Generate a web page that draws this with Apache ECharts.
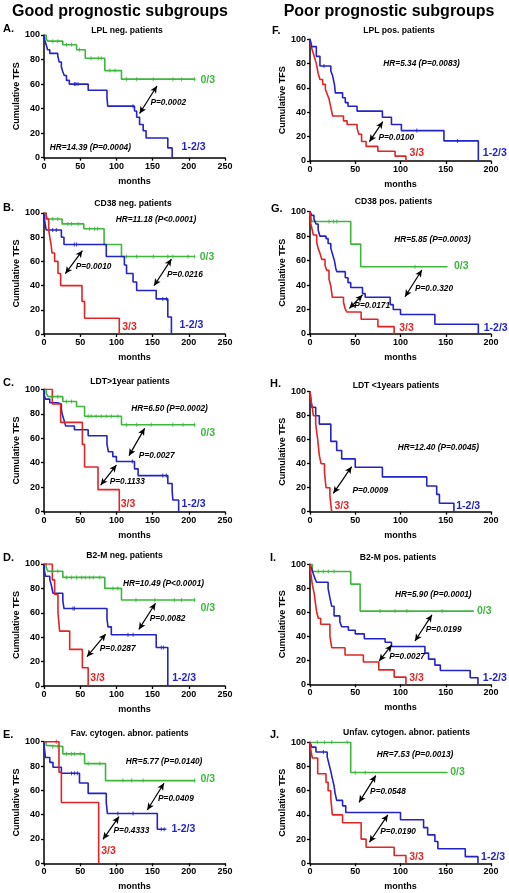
<!DOCTYPE html>
<html><head><meta charset="utf-8">
<script src="https://cdn.jsdelivr.net/npm/echarts@6.0.0/dist/echarts.min.js"></script>
<style>html,body{margin:0;padding:0;background:#fff}#c{width:509px;height:893px}</style>
</head><body><div id="c"></div><script>
// ---------- tick labels ----------
const yTicks = [0, 20, 40, 60, 80, 100];
const xTicksGood = [0, 50, 100, 150, 200, 250];
const xTicksPoor = [0, 50, 100, 150, 200];

// ---------- A. LPL neg. ----------
const A_green = [[0,100],[3,97],[5,95],[26,92],[45,88],[57,81],[84,71],[107,64],[209,64]];
const A_greenCens = [[12,95],[19,95],[31,92],[38,92],[49,88],[65,81],[75,81],[79,81],[91,71],[98,71],[114,64],[128,64],[151,64],[178,64],[190,64],[208,64]];
const A_blue = [[0,100],[1,96],[3,92],[5,88],[8,85],[19,83],[21,78],[24,74],[26,70],[28,67],[31,63],[35,60],[61,55],[87,49],[88,42],[125,38],[128,33],[132,27],[137,22],[141,16],[171,8],[177,0]];
const A_blueCens = [[42,60],[44,60],[47,60],[123,42]];

// ---------- F. LPL pos. ----------
const F_red = [[0,100],[1,95],[3,90],[5,85],[7,80],[8,76],[9,72],[11,67],[14,63],[17,59],[19,55],[21,51],[23,44],[25,37],[37,33],[41,30],[52,27],[54,22],[57,16],[62,12],[75,8],[94,4],[106,0]];
const F_blue = [[0,100],[2,94],[7,86],[11,78],[23,74],[25,70],[27,63],[28,56],[36,52],[39,48],[42,45],[52,41],[80,36],[90,30],[101,25],[148,16.5],[186,0]];
const F_blueCens = [[15.5,78],[118,25],[163,16.5]];

// ---------- B. CD38 neg. ----------
const B_green = [[0,100],[3,98],[5,95],[25,91],[55,87],[83,74],[107,64],[208,64]];
const B_greenCens = [[12,95],[19,95],[33,91],[38,91],[47,91],[63,87],[70,87],[74,87],[114,64],[128,64],[151,64],[171,64],[178,64],[199,64],[208,64]];
const B_blue = [[0,100],[1,93],[3,86],[24,80],[27.6,74],[86,64],[111,57],[114,50],[123,43],[128,36],[155,29],[171,14],[176,0]];
const B_blueCens = [[12,86],[17,86],[42,74],[45,74],[164,29],[169,29]];
const B_red = [[0,100],[3,95],[6.5,86],[8,80],[10,73],[11,67],[14.7,60],[19.3,50],[23,40],[52.5,27],[56,13],[104,0]];

// ---------- G. CD38 pos. ----------
const G_green = [[0,100],[2,92],[45,73.5],[56,55],[152,55]];
const G_greenCens = [[21,92],[26,92],[29.5,92],[116,55]];
const G_blue = [[0,100],[2,97],[4.4,94],[6.6,90],[9,85],[11,80],[17.7,78],[20,74],[23,70],[25,65],[27,60],[28.4,54],[29.5,51],[39,46],[42,42],[45,38],[58,33],[61,30],[88.6,24],[92,20],[100,16],[138,8],[186,0]];
const G_red = [[0,100],[0.5,95],[1,90],[2.5,85],[3.7,81],[7.4,75],[9,70],[11,66],[13,61],[16.6,56],[18.5,52],[21,45],[23,39],[24.7,30],[37,26],[38.7,21],[40.6,18],[56.5,12],[75,6],[93,0]];

// ---------- C. LDT>1year ----------
const C_green = [[0,100],[3,97],[5.5,94],[26,90],[45,86],[56,78],[107,71],[209,71]];
const C_greenCens = [[12,94],[19,94],[31,90],[38,90],[61,78],[65,78],[72,78],[79,78],[86,78],[93,78],[102,78],[114,71],[128,71],[148,71],[178,71],[192,71],[208,71]];
const C_red = [[0,100],[11.5,88],[23,73],[53,55],[56,36.5],[74.6,18],[104,0]];
const C_blue = [[0,100],[0.5,95],[2,92],[8,89],[19,88],[24,84],[25,80],[27.6,75],[30,70],[42,67],[61,62],[87,55],[89,49],[95,45],[100,41],[125,35],[130,29.5],[171,23],[177,17],[178,9.5],[186,0]];
const C_blueCens = [[122,41],[164,29.5],[169,29.5]];

// ---------- H. LDT <1years ----------
const H_red = [[0,100],[1,93],[2.6,87],[3.7,80],[6.3,73],[8.5,60],[10.3,47],[12.2,40],[16,33],[17.7,20],[22,13],[24,0]];
const H_blue = [[0,100],[2,87],[6.3,80],[10.3,73],[23,58.6],[29.5,51],[35,44],[50,37],[80,29],[129,21.4],[140,14.4],[143,7],[159,0]];

// ---------- D. B2-M neg. ----------
const D_green = [[0,100],[3,97],[5.5,94],[26,89],[84,80],[107,70.5],[209,70.5]];
const D_greenCens = [[12,94],[19,94],[31,89],[38,89],[45,89],[52,89],[57,89],[63,89],[68,89],[77,89],[95,80],[102,80],[127,70.5],[153,70.5],[180,70.5],[190,70.5],[208,70.5]];
const D_red = [[0,100],[11.5,87],[14.7,75],[19.3,60],[21.6,45],[35.5,30],[53,15],[61,0]];
const D_blue = [[0,100],[0.5,95],[2,90],[8,87],[10,83],[12.4,76],[26,70],[27.6,63.5],[87,55],[88.4,48.5],[93,42],[155,31.5],[171,0]];
const D_blueCens = [[40,63.5],[42,63.5],[116,42],[123,42],[162,31.5],[165,31.5]];

// ---------- I. B2-M pos. ----------
const I_green = [[0,100],[2.6,94],[45,83.5],[55.4,61],[181,61]];
const I_greenCens = [[9.2,94],[14.8,94],[20.3,94],[26.6,94],[77.5,61],[94,61],[107,61],[146,61]];
const I_red = [[0,100],[1,92],[2.6,83],[4.8,75],[6.3,66],[7.4,60],[9.2,55],[11.8,50],[22,40],[24,30.5],[38.7,24.4],[59,18.6],[76,12],[93,6],[106,0]];
const I_blue = [[0,100],[2,96],[3.7,92],[5.5,88],[7.4,85],[20,80],[22,72],[24,65],[26.6,57],[33,52],[35,48],[42.4,45],[50,42],[60,38],[83,35],[90,31.5],[127,26],[131,21],[138,16],[144,11.5],[177,5.5],[185.6,0]];

// ---------- E. Fav. cytogen. ----------
const E_green = [[0,100],[3,97],[4.6,96],[26,90],[56,82],[85,68],[209,68]];
const E_greenCens = [[12,96],[19,96],[31,90],[38,90],[42,90],[50,90],[61,82],[77,82],[109,68],[121,68],[137,68],[208,68]];
const E_red = [[0,100],[20.7,75],[24,50],[75.5,0]];
const E_redCens = [[17,100]];
const E_blue = [[0,100],[0.5,95],[2,87],[8,83],[12.4,79],[24,74],[49,66],[61,57.5],[86,50],[87.5,41],[156.5,28],[169,28]];
const E_blueCens = [[38,74],[42,74],[46,74],[102,41],[123,41],[162,28],[166,28]];

// ---------- J. Unfav. cytogen. ----------
const J_green = [[0,100],[45,75],[152,75]];
const J_greenCens = [[8,100],[16,100],[24,100],[41,100],[50,75],[61,75]];
const J_red = [[0,100],[1,93],[2.6,87],[8.5,74],[17.7,67],[20,60],[23,53.5],[24.7,40],[36,33.5],[56.5,20],[62,13.3],[93,6.5],[106,0]];
const J_blue = [[0,100],[2,96],[6.6,92],[19,88],[21,82],[23,76],[24.7,70],[26.6,64],[27.7,58],[29.5,52],[36,47.5],[39.5,42],[100,36],[125.5,29.5],[130,23.5],[138,18],[141.3,12],[171.6,5.5],[185.6,0]];
const J_blueCens = [[14.8,92]];

// ---------- layout / styles ----------
const COL = { green: '#3cb83c', blue: '#2323c8', red: '#e32424' };
const FONT = '"Liberation Sans", Arial, sans-serif';

const panels = [
  { g:[44,35,181,122.7], good:true, letter:'A.', lp:[3,29.3], title:'LPL neg. patients', tp:[127,31],
    curves:[['green',A_green,A_greenCens],['blue',A_blue,A_blueCens]],
    arrows:[[[132,36],[156,58.4]]],
    notes:[['0/3',216,63.3,'green'],['1-2/3',190,9,'blue'],['P=0.0002',147,45],['HR=14.39 (P=0.0004)',8,8.2]] },
  { g:[310,39.3,181,121.7], good:false, letter:'F.', lp:[272,30.7], title:'LPL pos. patients', tp:[399,30.7],
    curves:[['red',F_red,[]],['blue',F_blue,F_blueCens]],
    arrows:[[[65.7,15.9],[80.4,32.3]]],
    notes:[['HR=5.34 (P=0.0083)',81,80.3],['P=0.0100',75.6,19.5],['3/3',110,6.8,'red'],['1-2/3',191,6.3,'blue']] },
  { g:[44,213,181,121], good:true, letter:'B.', lp:[3,207.7], title:'CD38 neg. patients', tp:[133,204],
    curves:[['green',B_green,B_greenCens],['blue',B_blue,B_blueCens],['red',B_red,[]]],
    arrows:[[[29.5,49.9],[53,68.9]],[[152,39.9],[176,61.9]]],
    notes:[['HR=11.18 (P<0.0001)',99,94.2],['0/3',215,63.9,'green'],['P=0.0010',43.7,55.4],['P=0.0216',170,48.8],['3/3',108,6,'red'],['1-2/3',187,7.4,'blue']] },
  { g:[310,211.7,181,122.3], good:false, letter:'G.', lp:[271,209], title:'CD38 pos. patients', tp:[393.5,201.7],
    curves:[['green',G_green,G_greenCens],['blue',G_blue,[]],['red',G_red,[]]],
    arrows:[[[105,30.5],[123.6,52.3]],[[43.5,21],[58,31.9]]],
    notes:[['HR=5.85 (P=0.0003)',93,76.8],['0/3',159,55.6,'green'],['P=0.0.320',116,37.3],['P=0.0171',49,22.9],['3/3',98.5,4.6,'red'],['1-2/3',192,5.2,'blue']] },
  { g:[44,389.3,181,122.4], good:true, letter:'C.', lp:[3,382.7], title:'LDT>1year patients', tp:[130,381.7],
    curves:[['green',C_green,C_greenCens],['blue',C_blue,C_blueCens],['red',C_red,[]]],
    arrows:[[[117.4,45.8],[139,68.1]],[[78.3,21.8],[100,38.1]]],
    notes:[['HR=6.50 (P=0.0002)',120.6,84],['0/3',216,64,'green'],['P=0.0027',131,46],['P=0.1133',90.7,24.8],['3/3',106,6,'red'],['1-2/3',190,6,'blue']] },
  { g:[310,391.7,181,120], good:false, letter:'H.', lp:[270,384], title:'LDT <1years patients', tp:[396,386],
    curves:[['blue',H_blue,[]],['red',H_red,[]]],
    arrows:[[[25.8,15.3],[46,37.5]]],
    notes:[['HR=12.40 (P=0.0045)',97,53.6],['P=0.0009',46.9,17.5],['3/3',27,4.7,'red'],['1-2/3',161.6,4.7,'blue']] },
  { g:[44,564,181,122], good:true, letter:'D.', lp:[3,557.7], title:'B2-M neg. patients', tp:[124.5,555.7],
    curves:[['green',D_green,D_greenCens],['blue',D_blue,D_blueCens],['red',D_red,[]]],
    arrows:[[[131,46.4],[154,67.8]],[[59.4,24],[85.2,42.6]]],
    notes:[['HR=10.49 (P<0.0001)',109,83.6],['0/3',216,64.2,'green'],['P=0.0082',146,55],['P=0.0287',77,30.3],['3/3',64,6.3,'red'],['1-2/3',177,6.3,'blue']] },
  { g:[310,564.3,181,120], good:false, letter:'I.', lp:[270,558], title:'B2-M pos. patients', tp:[398,558],
    curves:[['green',I_green,I_greenCens],['blue',I_blue,[]],['red',I_red,[]]],
    arrows:[[[116,36.1],[134.7,57.8]],[[76.4,19.4],[90.4,32.8]]],
    notes:[['HR=5.90 (P=0.0001)',94,74.4],['0/3',184.5,61.4,'green'],['P=0.0199',128,45.8],['P=0.0027',87.5,23],['3/3',109.6,5,'red'],['1-2/3',191,5,'blue']] },
  { g:[44,741.7,181,121.6], good:true, letter:'E.', lp:[3,735], title:'Fav. cytogen. abnor. patients', tp:[129.7,733.3],
    curves:[['green',E_green,E_greenCens],['blue',E_blue,E_blueCens],['red',E_red,E_redCens]],
    arrows:[[[142.7,43.8],[165.7,65.8]],[[81.5,19.7],[103.6,38.4]]],
    notes:[['HR=5.77 (P=0.0140)',113,83.6],['0/3',216,69,'green'],['P=0.0409',157.5,53.4],['P=0.4333',96,26.6],['3/3',79,10.4,'red'],['1-2/3',176,27.9,'blue']] },
  { g:[310,742.3,181,121], good:false, letter:'J.', lp:[270,735], title:'Unfav. cytogen. abnor. patients', tp:[406.5,732.3],
    curves:[['green',J_green,J_greenCens],['blue',J_blue,J_blueCens],['red',J_red,[]]],
    arrows:[[[54.2,50.4],[72.7,72.5]],[[65.7,17.4],[86,40]]],
    notes:[['HR=7.53 (P=0.0013)',73.8,89.5],['0/3',155,75.2,'green'],['P=0.0548',66.4,59],['P=0.0190',77.5,26.2],['3/3',109.6,5,'red'],['1-2/3',189,5,'blue']] }
];

const grids = [], xAxes = [], yAxes = [], series = [];
const axisLine = { show: true, onZero: false, lineStyle: { color: '#000', width: 1.5 } };
const axisTick = { show: true, inside: false, length: 3, lineStyle: { color: '#000', width: 1.3 } };
const tickLabel = { color: '#000', fontSize: 9, fontWeight: 'bold', fontFamily: FONT };

panels.forEach((p, i) => {
  grids.push({ left: p.g[0], top: p.g[1], width: p.g[2], height: p.g[3], containLabel: false });
  const xt = p.good ? xTicksGood : xTicksPoor;
  xAxes.push({ type: 'value', gridIndex: i, min: xt[0], max: xt[xt.length - 1], interval: xt[1] - xt[0],
    axisLine, axisTick, splitLine: { show: false }, axisLabel: Object.assign({ margin: 4 }, tickLabel),
    name: 'months', nameLocation: 'middle', nameGap: 19,
    nameTextStyle: { color: '#000', fontSize: 9, fontWeight: 'bold', fontFamily: FONT } });
  yAxes.push({ type: 'value', gridIndex: i, min: yTicks[0], max: yTicks[yTicks.length - 1], interval: yTicks[1] - yTicks[0],
    axisLine, axisTick, splitLine: { show: false }, axisLabel: Object.assign({ margin: 4 }, tickLabel),
    name: 'Cumulative TFS', nameLocation: 'middle', nameGap: 22,
    nameTextStyle: { color: '#000', fontSize: 9, fontWeight: 'bold', fontFamily: FONT } });
  p.curves.forEach((c, k) => {
    const s = { type: 'line', xAxisIndex: i, yAxisIndex: i, data: c[1], step: 'end', showSymbol: false,
      symbol: 'none', lineStyle: { color: COL[c[0]], width: 1.6 }, itemStyle: { color: COL[c[0]] },
      silent: true, z: 3 };
    if (k === 0) {
      s.markLine = { silent: true, symbol: ['arrow', 'arrow'], symbolSize: [5, 7], animation: false,
        lineStyle: { color: '#000', width: 1.2, type: 'solid' }, label: { show: false },
        emphasis: { disabled: true },
        data: p.arrows.map(a => [{ coord: a[0] }, { coord: a[1] }]) };
    }
    series.push(s);
    if (c[2].length) {
      series.push({ type: 'scatter', xAxisIndex: i, yAxisIndex: i, data: c[2], symbol: 'rect',
        symbolSize: [1.1, 4], itemStyle: { color: COL[c[0]] }, silent: true, z: 4 });
    }
  });
});

const chart = echarts.init(document.getElementById('c'), null, { renderer: 'canvas' });
chart.setOption({ animation: false, backgroundColor: '#fff', grid: grids, xAxis: xAxes, yAxis: yAxes, series });

const graphic = [];
function txt(x, y, text, font, fill, align) {
  graphic.push({ type: 'text', silent: true, z: 10,
    style: { x, y, text, font, fill, align: align || 'left', verticalAlign: 'middle' } });
}
txt(120, 12, 'Good prognostic subgroups', 'bold 16px ' + FONT, '#000', 'center');
txt(389, 12, 'Poor prognostic subgroups', 'bold 16px ' + FONT, '#000', 'center');
panels.forEach((p, i) => {
  txt(p.lp[0], p.lp[1], p.letter, 'bold 11px ' + FONT, '#000', 'left');
  txt(p.tp[0], p.tp[1], p.title, 'bold 8.6px ' + FONT, '#000', 'center');
  p.notes.forEach(n => {
    const px = chart.convertToPixel({ gridIndex: i }, [n[1], n[2]]);
    if (n[3]) txt(px[0], px[1], n[0], 'bold 10.5px ' + FONT, COL[n[3]], 'left');
    else txt(px[0], px[1], n[0], 'italic bold 8.3px ' + FONT, '#000', 'left');
  });
});
chart.setOption({ graphic });
</script></body></html>
